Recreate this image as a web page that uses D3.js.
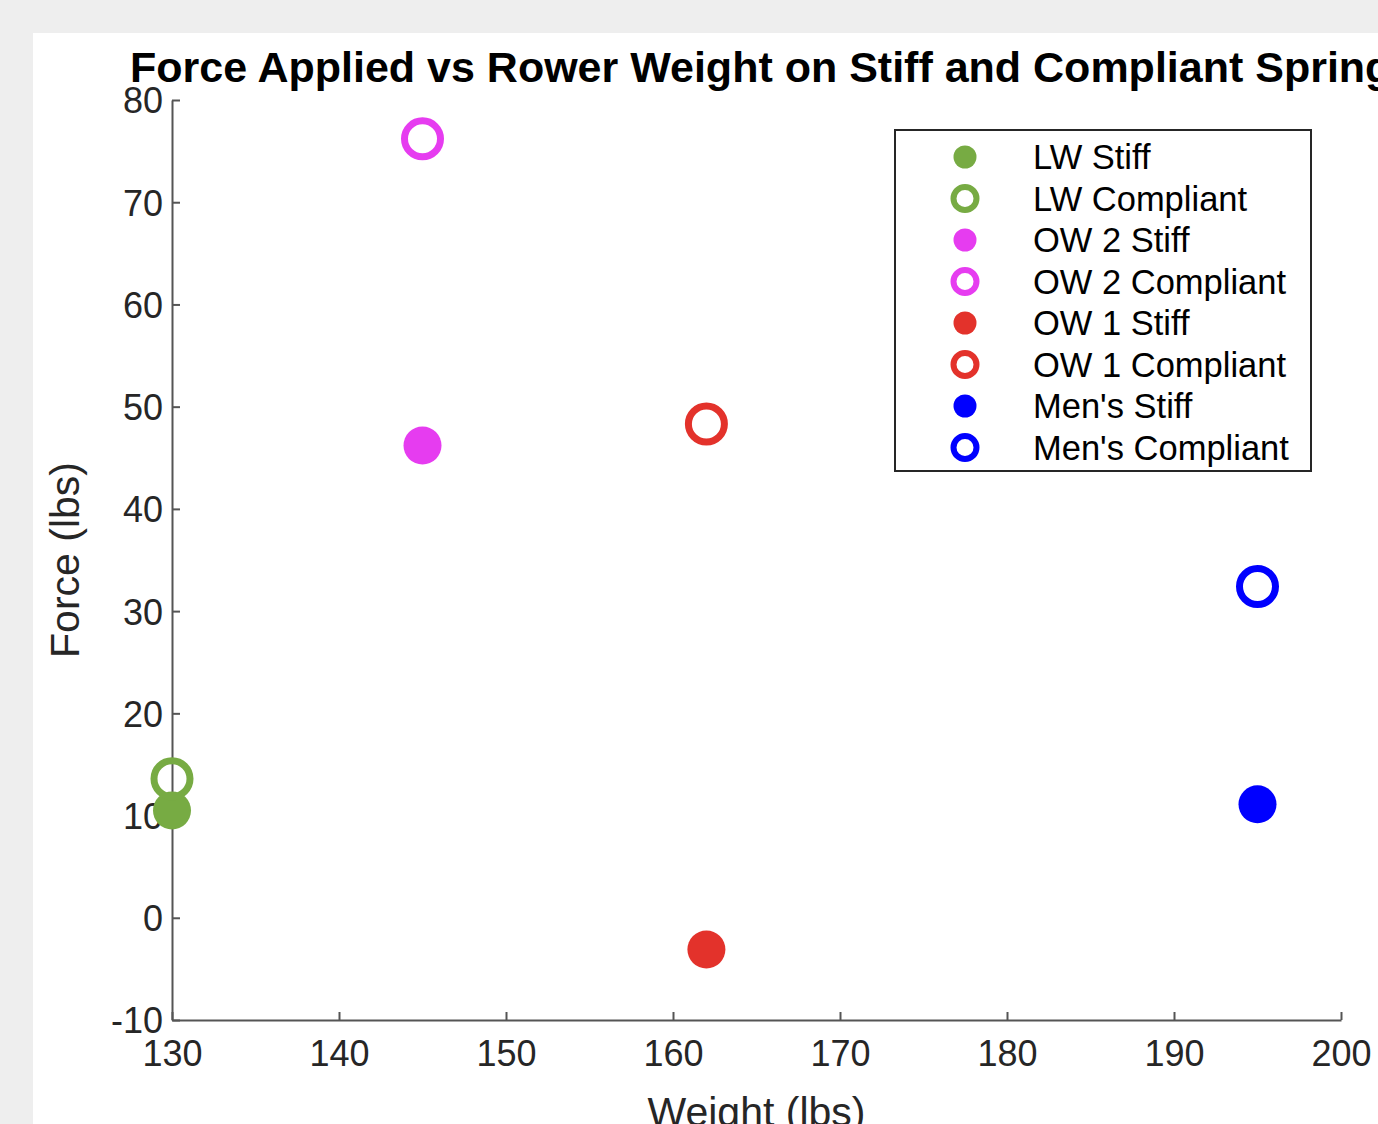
<!DOCTYPE html>
<html>
<head>
<meta charset="utf-8">
<script src="https://cdn.jsdelivr.net/npm/d3@7"></script>
<style>
  body { margin: 0; background: #eeeeee; }
  svg text { font-family: "Liberation Sans", Helvetica, Arial, sans-serif; }
</style>
</head>
<body>
<svg id="chart"></svg>
<script>
// data
var groups = ["LW", "OW 2", "OW 1", "Men's"];
var weights = [130, 145, 162, 195];
var stiffForce = [10.5, 46.2, -3.1, 11.1];
var compliantForce = [13.6, 76.2, 48.3, 32.4];
var groupColors = ["#77ab43", "#e63cf0", "#e3322b", "#0000ff"];
var xTicks = [130, 140, 150, 160, 170, 180, 190, 200];
var yTicks = [-10, 0, 10, 20, 30, 40, 50, 60, 70, 80];

var width = 1378,
    height = 1124;

var svg = d3.select("#chart")
    .attr("width", width)
    .attr("height", height);

svg.append("rect")
    .attr("width", width).attr("height", height)
    .attr("fill", "#eeeeee");
svg.append("rect")
    .attr("x", 33).attr("y", 33)
    .attr("width", width - 33).attr("height", height - 33)
    .attr("fill", "#ffffff");

var x = d3.scaleLinear().domain([130, 200]).range([172, 1341]);
var y = d3.scaleLinear().domain([-10, 80]).range([1020, 100]);

// axes, matlab style ticks pointing inward
var plain = function(d) { return String(d); };
var xAxis = svg.append("g")
    .attr("transform", "translate(0," + y(-10) + ")")
    .call(d3.axisBottom(x).tickValues(xTicks).tickFormat(plain).tickSize(-8).tickPadding(20).tickSizeOuter(0));
var yAxis = svg.append("g")
    .attr("transform", "translate(" + x(130) + ",0)")
    .call(d3.axisLeft(y).tickValues(yTicks).tickFormat(plain).tickSize(-8).tickPadding(9).tickSizeOuter(0));

[xAxis, yAxis].forEach(function(ax) {
    ax.select(".domain").attr("stroke", "#555555").attr("stroke-width", 2);
    ax.selectAll(".tick line").attr("stroke", "#555555").attr("stroke-width", 2);
    ax.selectAll(".tick text")
        .attr("fill", "#262626")
        .style("font-size", "36px")
        .style("font-family", "Liberation Sans, Helvetica, Arial, sans-serif");
});
xAxis.selectAll(".tick text").attr("dy", "0.72em");
yAxis.selectAll(".tick text").attr("dy", "0.36em");

// title + axis labels
svg.append("text")
    .attr("x", 130)
    .attr("y", 82)
    .style("font-size", "43px")
    .style("font-weight", "bold")
    .attr("fill", "#000")
    .text("Force Applied vs Rower Weight on Stiff and Compliant Spring");

svg.append("text")
    .attr("x", (x(130) + x(200)) / 2)
    .attr("y", 1124 + 2)
    .attr("text-anchor", "middle")
    .style("font-size", "41px")
    .attr("fill", "#262626")
    .text("Weight (lbs)");

svg.append("text")
    .attr("transform", "translate(79," + (y(80) + y(-10)) / 2 + ") rotate(-90)")
    .attr("text-anchor", "middle")
    .style("font-size", "41px")
    .attr("fill", "#262626")
    .text("Force (lbs)");

// build series list from the arrays
var series = [];
groups.forEach(function(g, i) {
    series.push({ name: g + " Stiff", color: groupColors[i], filled: true, w: weights[i], f: stiffForce[i] });
    series.push({ name: g + " Compliant", color: groupColors[i], filled: false, w: weights[i], f: compliantForce[i] });
});

var pts = svg.append("g");
pts.selectAll("circle")
    .data(series)
    .enter().append("circle")
    .attr("cx", function(d) { return x(d.w); })
    .attr("cy", function(d) { return y(d.f); })
    .attr("r", function(d) { return d.filled ? 19 : 18; })
    .attr("fill", function(d) { return d.filled ? d.color : "none"; })
    .attr("stroke", function(d) { return d.filled ? "none" : d.color; })
    .attr("stroke-width", 7);

// legend
var legend = svg.append("g");
legend.append("rect")
    .attr("x", 895).attr("y", 130)
    .attr("width", 416).attr("height", 341)
    .attr("fill", "#ffffff")
    .attr("stroke", "#262626")
    .attr("stroke-width", 2);

var row = legend.selectAll(".row")
    .data(series)
    .enter().append("g")
    .attr("class", "row")
    .attr("transform", function(d, i) { return "translate(0," + (157 + i * 41.5) + ")"; });

row.append("circle")
    .attr("cx", 965)
    .attr("r", 11.5)
    .attr("fill", function(d) { return d.filled ? d.color : "none"; })
    .attr("stroke", function(d) { return d.filled ? "none" : d.color; })
    .attr("stroke-width", 6);

row.append("text")
    .attr("x", 1033)
    .attr("dy", "0.36em")
    .style("font-size", "34.5px")
    .attr("fill", "#000")
    .text(function(d) { return d.name; });
</script>
</body>
</html>
